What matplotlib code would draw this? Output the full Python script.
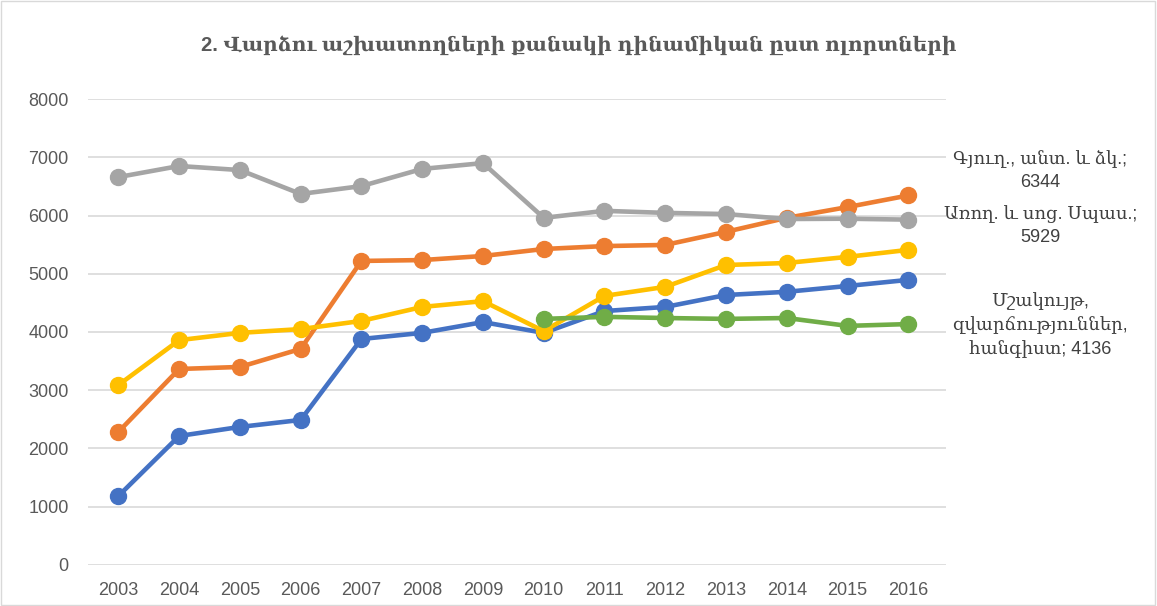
import numpy as np
import matplotlib.pyplot as plt
from matplotlib.patches import Rectangle

years = list(range(2003, 2017))

# employee counts by sector
blue = [1185, 2215, 2370, 2490, 3880, 3985, 4170, 3985, 4360, 4430, 4635, 4690, 4790, 4895]
orange = [2285, 3365, 3400, 3710, 5220, 5235, 5305, 5425, 5475, 5495, 5720, 5960, 6145, 6344]
gray = [6660, 6850, 6780, 6370, 6505, 6800, 6900, 5960, 6080, 6045, 6025, 5940, 5945, 5929]
yellow = [3090, 3860, 3985, 4050, 4190, 4430, 4530, 4015, 4620, 4775, 5150, 5185, 5290, 5410]
green_years = years[7:]
green = [4225, 4260, 4240, 4225, 4240, 4105, 4136]

name_orange = "Գյուղ., անտ. և ձկ."
name_gray = "Առող. և սոց. Սպաս."
name_green = "Մշակույթ,\nզվարճություններ,\nհանգիստ"

title = "2. Վարձու աշխատողների քանակի դինամիկան ըստ ոլորտների"

txt = "#595959"
# Liberation Sans has no Armenian, so Armenian letters fall through to DejaVu Serif
arm_font = ["Liberation Sans", "DejaVu Serif"]
num_font = ["Liberation Sans", "DejaVu Sans"]

fig = plt.figure(figsize=(11.57, 6.06), dpi=100)
ax = fig.add_axes([0.0761, 0.0677, 0.7415, 0.7689])

lw = 3.3
ms = 11.5
series = [
    (years, orange, "#ED7D31", 3),
    (years, blue, "#4472C4", 4),
    (years, yellow, "#FFC000", 5),
    (years, gray, "#A5A5A5", 6),
    (green_years, green, "#70AD47", 7),
]
for xs, ys, c, z in series:
    ax.plot(xs, ys, color=c, lw=lw, marker="o", ms=ms, zorder=z,
            solid_capstyle="round")

ax.set_xlim(2002.5, 2016.62)
ax.set_ylim(0, 8000)
ax.set_yticks(np.arange(0, 8001, 1000))
ax.set_xticks(years)
ax.grid(axis="y", color="#D9D9D9", lw=1.2)
ax.set_axisbelow(True)
for s in ax.spines.values():
    s.set_visible(False)
ax.tick_params(length=0, labelsize=13, colors=txt)
for lab in ax.get_xticklabels() + ax.get_yticklabels():
    lab.set_family(num_font)
ax.tick_params(axis="x", pad=12)
ax.tick_params(axis="y", pad=14)

# data labels at the last point of three series
labels = [
    (f"{name_orange};\n{orange[-1]}", orange[-1], 25),
    (f"{name_gray};\n{gray[-1]}", gray[-1], -6),
    (f"{name_green}; {green[-1]}", green[-1], -1),
]
for text, val, dy in labels:
    ax.annotate(text, xy=(years[-1], val), xytext=(132, dy),
                textcoords="offset pixels", ha="center", va="center",
                fontsize=13, color="#404040", family=arm_font,
                linespacing=1.45, annotation_clip=False)

fig.text(0.5, 0.925, title, ha="center", va="center", fontsize=14.5,
         fontweight="bold", color=txt, family=arm_font)

fig.patches.append(Rectangle((0.001, 0.001), 0.997, 0.997, transform=fig.transFigure,
                             fill=False, edgecolor="#D9D9D9", lw=1))

fig.savefig("out.png", dpi=100)
